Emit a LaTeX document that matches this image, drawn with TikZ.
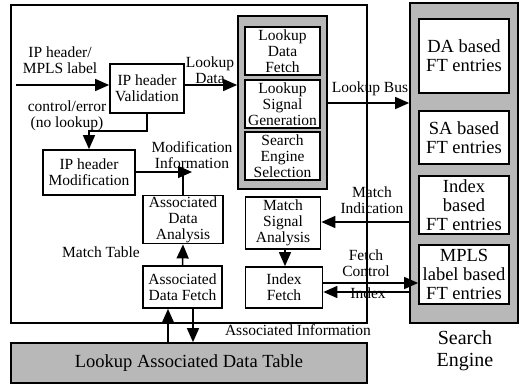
\documentclass[tikz,border=0pt]{standalone}
\usepackage{fontspec}
\setmainfont{Liberation Serif}
\usetikzlibrary{arrows.meta}

\tikzset{
  txt/.style={font=\fontsize{15.5}{16}\selectfont},
  blk/.style={txt, draw, line width=1.7pt, fill=white, align=center, inner sep=1pt},
  seblk/.style={blk, font=\fontsize{18.5}{19}\selectfont},
  shade/.style={draw, line width=1.7pt, fill=black!28},
  frame/.style={draw, line width=1.4pt},
  lbl/.style={txt, align=center, inner sep=0pt},
  arr/.style={line width=1.5pt, -{Triangle[length=14pt,width=12pt]}},
  wire/.style={line width=1.5pt}
}

\begin{document}
\begin{tikzpicture}[x=1pt,y=-1pt]
\useasboundingbox (0,0) rectangle (525,386);

% main processing frame
\node[frame, minimum width=356pt, minimum height=318pt] (outer) at (189,164) {};

% associated data table
\node[shade, minimum width=356pt, minimum height=40pt, font=\fontsize{18.5}{19}\selectfont] (tbl) at (189,363) {Lookup Associated Data Table};

% search engine column
\node[shade, minimum width=108pt, minimum height=320pt] (se) at (464,163) {};
\node[seblk, minimum width=90pt, minimum height=74pt] (da) at (464,56) {DA based\\FT entries};
\node[seblk, minimum width=90pt, minimum height=53pt] (sa) at (464,137.5) {SA based\\FT entries};
\node[seblk, minimum width=90pt, minimum height=58pt] (ix) at (464,205) {Index\\based\\FT entries};
\node[seblk, minimum width=90pt, minimum height=59pt] (mp) at (464,274.5) {MPLS\\label based\\FT entries};
\node[lbl, font=\fontsize{20}{22}\selectfont] (setitle) at (465,351) {Search\\Engine};

% lookup column
\node[shade, minimum width=89pt, minimum height=173pt] (lkcol) at (282.5,102.5) {};
\node[blk, minimum width=75pt, minimum height=48pt] (ldf) at (282.5,51) {Lookup\\Data\\Fetch};
\node[blk, minimum width=75pt, minimum height=48pt] (lsg) at (282.5,104) {Lookup\\Signal\\Generation};
\node[blk, minimum width=75pt, minimum height=48pt] (ses) at (282.5,156) {Search\\Engine\\Selection};

% processing blocks
\node[blk, minimum width=74pt, minimum height=49pt] (ipv) at (147,88.5) {IP header\\Validation};
\node[blk, minimum width=92pt, minimum height=45pt] (ipm) at (89,172.5) {IP header\\Modification};
\node[blk, minimum width=80pt, minimum height=47pt] (ada) at (183,219.5) {Associated\\Data\\Analysis};
\node[blk, minimum width=79pt, minimum height=42pt] (adf) at (182.5,287) {Associated\\Data Fetch};
\node[blk, minimum width=75pt, minimum height=52pt] (msa) at (283,223) {Match\\Signal\\Analysis};
\node[blk, minimum width=77pt, minimum height=41pt] (ifc) at (284,287.5) {Index\\Fetch};

% connector end points
\coordinate (in) at (16,85);
\coordinate (modinfo) at (192,172);
\coordinate (up) at (168,0);
\coordinate (down) at (193,0);

% connectors
\draw[arr] (in) -- (in -| ipv.west);
\draw[arr] (ipv.east |- in) -- (lkcol.west |- in);
\draw[arr] (ipv.south) -- ++(0,17) -| (ipm.north);
\draw[arr] (ipm.east |- modinfo) -- (modinfo);
\draw[wire] (ada.north) -- (ada.north |- modinfo);
\draw[arr] (adf.north) -- (ada.south);
\draw[arr] (tbl.north -| up) -- (adf.south -| up);
\draw[arr] (adf.south -| down) -- (tbl.north -| down);
\draw[arr] (lkcol.east |- 0,103) -- (se.west |- 0,103);
\draw[arr] (se.west |- 0,222) -- (msa.east |- 0,222);
\draw[arr] (msa.south -| 285,0) -- (ifc.north -| 285,0);
\draw[arr] (ifc.east |- 0,283) -- (mp.west |- 0,283);
\draw[arr] (se.west |- 0,292) -- (ifc.east |- 0,292);

% connector labels
\node[lbl] (l1) at (60,60) {IP header/\\MPLS label};
\node[lbl] (l2) at (210,70) {Lookup\\Data};
\node[lbl] (l3) at (67,116) {control/error\\(no lookup)};
\node[lbl] (l4) at (192,155) {Modification\\Information};
\node[lbl] (l5) at (101,252) {Match Table};
\node[lbl] (l6) at (370,89) {Lookup Bus};
\node[lbl] (l7) at (372,200) {Match\\Indication};
\node[lbl] (l8) at (366,263) {Fetch\\Control};
\node[lbl] (l9) at (368,293) {Index};
\node[lbl] (l10) at (298,330) {Associated Information};
\end{tikzpicture}
\end{document}
